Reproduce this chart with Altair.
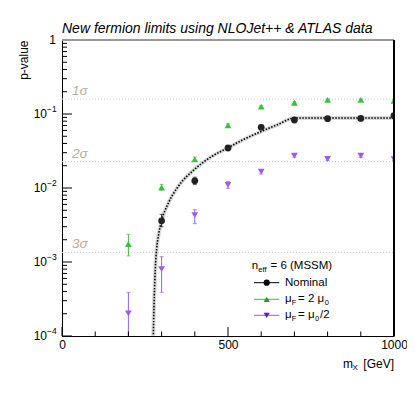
import altair as alt
import pandas as pd

FONT = "Liberation Sans"
W, H = 332, 296

# ---------------- data ----------------
nominal_m = [300, 400, 500, 600, 700, 800, 900, 1000]
nominal_p = [0.0036, 0.0125, 0.0347, 0.066, 0.083, 0.0865, 0.087, 0.095]
nominal_lo = [0.0030, 0.0112, 0.0333, 0.0635, 0.0805, 0.084, 0.0845, 0.092]
nominal_hi = [0.0044, 0.0140, 0.0362, 0.0685, 0.0855, 0.089, 0.0895, 0.098]

up_m = [200, 300, 400, 500, 600, 700, 800, 900, 1000]
up_p = [0.00175, 0.0102, 0.0244, 0.0703, 0.1256, 0.142, 0.155, 0.155, 0.151]
up_lo = [0.00121, 0.0093, 0.0228, 0.0675, 0.121, 0.137, 0.150, 0.150, 0.146]
up_hi = [0.00237, 0.0112, 0.0262, 0.0735, 0.130, 0.147, 0.160, 0.160, 0.156]

down_m = [200, 300, 400, 500, 600, 700, 800, 900, 1000]
down_p = [0.000202, 0.0008, 0.0043, 0.011, 0.0166, 0.0273, 0.0247, 0.0273, 0.0245]
down_lo = [0.00005, 0.00039, 0.0033, 0.0099, 0.0155, 0.0260, 0.0236, 0.0260, 0.0234]
down_hi = [0.00039, 0.00118, 0.0051, 0.0122, 0.0178, 0.0287, 0.0259, 0.0287, 0.0257]

fit_m = [274, 276, 278, 281, 285, 290, 300, 320, 350, 400, 450, 500, 550, 600, 650, 700, 750, 800, 900, 1000]
fit_p = [6e-5, 1.6e-4, 3.5e-4, 8e-4, 1.5e-3, 2.2e-3, 3.6e-3, 6.2e-3, 1.05e-2, 1.8e-2, 2.65e-2,
         3.5e-2, 4.6e-2, 5.8e-2, 7.2e-2, 8.8e-2, 8.85e-2, 8.85e-2, 8.85e-2, 8.85e-2]

sigma_p = [0.1587, 0.02275, 0.00135]
sigma_labels = ["1σ", "2σ", "3σ"]

decade_vals = [0.1, 0.01, 0.001, 0.0001]
decade_exps = ["−1", "−2", "−3", "−4"]

series_names = ["Nominal", "up", "down"]
marker_colors = ["#000000", "#1f9e1f", "#6a12d8"]
err_colors = ["#222222", "#3cbf3c", "#9a5cf0"]
shapes = ["circle", "triangle-up", "triangle-down"]

# ---------------- tables ----------------
rows = []
for name, ms, ps, los, his in [("Nominal", nominal_m, nominal_p, nominal_lo, nominal_hi),
                               ("up", up_m, up_p, up_lo, up_hi),
                               ("down", down_m, down_p, down_lo, down_hi)]:
    for m, p, lo, hi in zip(ms, ps, los, his):
        rows.append({"series": name, "m": m, "p": p, "lo": lo, "hi": hi})
pts = pd.DataFrame(rows)
fit = pd.DataFrame({"m": fit_m, "p": fit_p})
sig = pd.DataFrame({"p": sigma_p, "label": sigma_labels})
dec = pd.DataFrame({"v": decade_vals, "e": decade_exps})

major_y = [1e-4, 1e-3, 1e-2, 1e-1, 1]
minor_y = [k * d for d in [1e-4, 1e-3, 1e-2, 1e-1] for k in range(2, 10)]
major_x = [0, 500, 1000]
minor_x = [100, 200, 300, 400, 600, 700, 800, 900]

xs = alt.Scale(domain=[0, 1000], nice=False, zero=False)
ys = alt.Scale(type="log", domain=[1e-4, 1], nice=False)

AX = alt.Axis(values=major_x, ticks=False, grid=False, labelFlush=False, domainColor="black",
              labelFont=FONT, labelFontSize=12, labelColor="black", labelPadding=3, title=None, format="d")
AY = alt.Axis(values=major_y, ticks=False, grid=False, labels=False, domainColor="black",
              title="p-value", titleFont=FONT, titleFontSize=12, titleFontWeight="normal",
              titleColor="black", titleAngle=270, titleAlign="right", titleBaseline="middle",
              titleX=-39, titleY=0)

def X(f):
    return alt.X(f"{f}:Q", scale=xs, axis=AX)

def Y(f):
    return alt.Y(f"{f}:Q", scale=ys, axis=AY)

col_m = alt.Color("series:N", scale=alt.Scale(domain=series_names, range=marker_colors), legend=None)
col_e = alt.Color("series:N", scale=alt.Scale(domain=series_names, range=err_colors), legend=None)
shp = alt.Shape("series:N", scale=alt.Scale(domain=series_names, range=shapes), legend=None)

layers = []

# sigma lines and labels
layers.append(alt.Chart(sig).mark_rule(color="#c8c8c8", strokeDash=[1, 2], strokeWidth=1).encode(
    y=Y("p"), x=alt.value(0), x2=alt.value(W)))
layers.append(alt.Chart(sig).mark_text(align="left", baseline="alphabetic", dy=-4, font=FONT, fontSize=13.5,
                                       fontStyle="italic", color="#b5ada4").encode(
    y=Y("p"), x=alt.value(10), text="label:N"))

# fit band + dotted fit
layers.append(alt.Chart(fit).mark_line(color="#d9d9d9", strokeWidth=4, clip=True, interpolate="monotone").encode(
    x=X("m"), y=Y("p")))
layers.append(alt.Chart(fit).mark_line(color="black", strokeDash=[1.5, 1.5], strokeWidth=1.6, clip=True,
                                       interpolate="monotone").encode(x=X("m"), y=Y("p")))

# error bars + caps
layers.append(alt.Chart(pts).mark_rule(strokeWidth=1, clip=True).encode(
    x=X("m"), y=Y("lo"), y2="hi:Q", color=col_e))
for f in ["lo", "hi"]:
    layers.append(alt.Chart(pts).mark_tick(orient="horizontal", size=4, thickness=1, clip=True).encode(
        x=X("m"), y=Y(f), color=col_e))

# markers
layers.append(alt.Chart(pts).mark_point(filled=True, opacity=1, size=46, clip=True).encode(
    x=X("m"), y=Y("p"), color=col_m, shape=shp))

# inward ticks
layers.append(alt.Chart(pd.DataFrame({"v": major_y})).mark_rule(color="black").encode(
    y=Y("v"), x=alt.value(0), x2=alt.value(10)))
layers.append(alt.Chart(pd.DataFrame({"v": minor_y})).mark_rule(color="black").encode(
    y=Y("v"), x=alt.value(0), x2=alt.value(5)))
layers.append(alt.Chart(pd.DataFrame({"v": major_x})).mark_rule(color="black").encode(
    x=X("v"), y=alt.value(H), y2=alt.value(H - 9)))
layers.append(alt.Chart(pd.DataFrame({"v": minor_x})).mark_rule(color="black").encode(
    x=X("v"), y=alt.value(H), y2=alt.value(H - 4.5)))

# frame
layers.append(alt.Chart(fit).mark_rule(color="#999999", strokeWidth=2).encode(
    x=alt.value(0), x2=alt.value(W), y=alt.value(0)))
layers.append(alt.Chart(fit).mark_rule(color="black", strokeWidth=1).encode(
    x=alt.value(W), y=alt.value(0), y2=alt.value(H)))

# y tick labels (10 with superscript exponent)
layers.append(alt.Chart(dec).mark_text(align="right", baseline="middle", font=FONT, fontSize=12,
                                       color="black").encode(y=Y("v"), x=alt.value(-15), text=alt.value("10")))
layers.append(alt.Chart(dec).mark_text(align="left", baseline="middle", font=FONT, fontSize=8.5, dy=-5,
                                       color="black").encode(y=Y("v"), x=alt.value(-15), text="e:N"))
layers.append(alt.Chart(pd.DataFrame({"v": [1]})).mark_text(align="right", baseline="middle", font=FONT,
                                                           fontSize=12, color="black").encode(
    y=Y("v"), x=alt.value(-6), text=alt.value("1")))

one = pd.DataFrame({"a": [0]})

def txt(s, x, y, size, **kw):
    return alt.Chart(one).mark_text(text=s, align=kw.pop("align", "left"), baseline="middle", font=FONT,
                                    fontSize=size, color="black", **kw).encode(x=alt.value(x), y=alt.value(y))

# x axis title  m_X [GeV]
layers.append(txt("[GeV]", W, 324, 12, align="right"))
layers.append(txt("m", 281, 324, 12))
layers.append(txt("X", 290.5, 328, 8))

# legend
LF = 11.5
SF = 7.5
layers.append(txt("n", 189.7, 226, LF))
layers.append(txt("eff", 196.3, 229.5, SF))
layers.append(txt("= 6 (MSSM)", 208.5, 226, LF))

leg_y = [242.7, 259.3, 275.3]
for i, name in enumerate(series_names):
    yy = leg_y[i]
    layers.append(alt.Chart(one).mark_rule(color=err_colors[i] if i else "black", strokeWidth=1).encode(
        x=alt.value(192), x2=alt.value(217.3), y=alt.value(yy)))
    layers.append(alt.Chart(one).mark_point(filled=True, opacity=1, size=38, shape=shapes[i],
                                            color=marker_colors[i]).encode(
        x=alt.value(204.7), y=alt.value(yy)))

layers.append(txt("Nominal", 223, leg_y[0], LF))
layers.append(txt("μ", 223, leg_y[1], LF))
layers.append(txt("F", 229.8, leg_y[1] + 4, SF))
layers.append(txt("= 2 μ", 236, leg_y[1], LF))
layers.append(txt("0", 262.8, leg_y[1] + 4, SF))
layers.append(txt("μ", 223, leg_y[2], LF))
layers.append(txt("F", 229.8, leg_y[2] + 4, SF))
layers.append(txt("= μ", 236, leg_y[2], LF))
layers.append(txt("0", 253, leg_y[2] + 4, SF))
layers.append(txt("/2", 258, leg_y[2], LF))

chart = alt.layer(*layers).properties(
    width=W, height=H,
    title=alt.TitleParams("New fermion limits using NLOJet++ & ATLAS data", anchor="start", frame="group",
                          font=FONT, fontSize=14, fontStyle="italic", fontWeight="normal", color="black",
                          offset=-2),
    autosize=alt.AutoSizeParams(type="none"),
    padding={"left": 54, "top": 32, "right": 13, "bottom": 40},
).configure_view(stroke=None).configure(background="white")

chart.save("out.html", embed_options={"renderer": "svg", "actions": False})
